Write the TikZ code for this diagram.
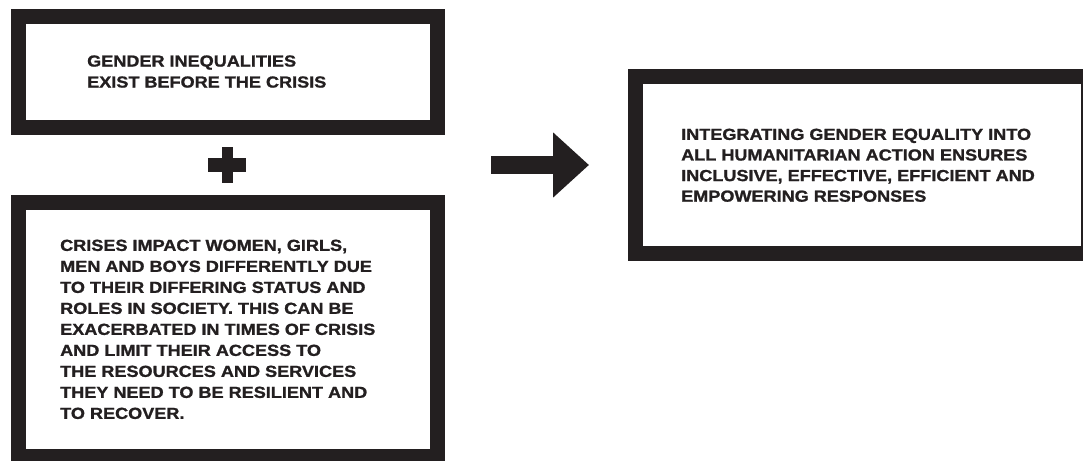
\documentclass[tikz,border=0pt]{standalone}
\usepackage{fontspec}
\setmainfont{Liberation Sans}[FakeStretch=1.13, BoldFeatures={FakeBold=1.2}]
\usetikzlibrary{arrows.meta}
\definecolor{ink}{HTML}{231F20}
\tikzset{
  framebox/.style={draw=ink, line width=15pt, fill=white, inner sep=0pt, rectangle},
  boxtext/.style={anchor=north west, inner sep=0pt, align=left, text=ink,
    font=\fontsize{16}{21}\selectfont\bfseries},
  bigarrow/.style={draw=ink, line width=18pt, -{Triangle[length=36pt,width=63pt]}},
}
\begin{document}
\begin{tikzpicture}[x=1pt,y=-1pt]
\clip (0,0) rectangle (1083,460);
\fill[white] (0,0) rectangle (1083,460);
% boxes
\node[framebox, minimum width=418.5pt, minimum height=111pt] (b1) at (227.75,72) {};
\node[framebox, minimum width=418.5pt, minimum height=254pt] (b2) at (227.75,329.5) {};
\node[framebox, minimum width=453pt, minimum height=176.5pt] (b3) at (861.5,164.75) {};
% texts
\node[boxtext] (t1) at (87,55.2) {GENDER INEQUALITIES\\EXIST BEFORE THE CRISIS};
\node[boxtext] (t2) at (60,239.5) {CRISES IMPACT WOMEN, GIRLS,\\MEN AND BOYS DIFFERENTLY DUE\\TO THEIR DIFFERING STATUS AND\\ROLES IN SOCIETY. THIS CAN BE\\EXACERBATED IN TIMES OF CRISIS\\AND LIMIT THEIR ACCESS TO\\THE RESOURCES AND SERVICES\\THEY NEED TO BE RESILIENT AND\\TO RECOVER.};
\node[boxtext, font=\fontsize{16}{20.6}\selectfont\bfseries] (t3) at (681,128.5) {INTEGRATING GENDER EQUALITY INTO\\ALL HUMANITARIAN ACTION ENSURES\\INCLUSIVE, EFFECTIVE, EFFICIENT AND\\EMPOWERING RESPONSES};
% plus sign
\coordinate (plus) at (227,165);
\fill[ink] ([xshift=-19pt,yshift=-6.7pt]plus) rectangle ([xshift=19pt,yshift=6.7pt]plus);
\fill[ink] ([xshift=-5.5pt,yshift=-18.3pt]plus) rectangle ([xshift=5.5pt,yshift=18.3pt]plus);
% arrow
\coordinate (as) at (491,165);
\coordinate (ae) at (589,165);
\draw[bigarrow] (as) -- (ae);
\end{tikzpicture}
\end{document}
